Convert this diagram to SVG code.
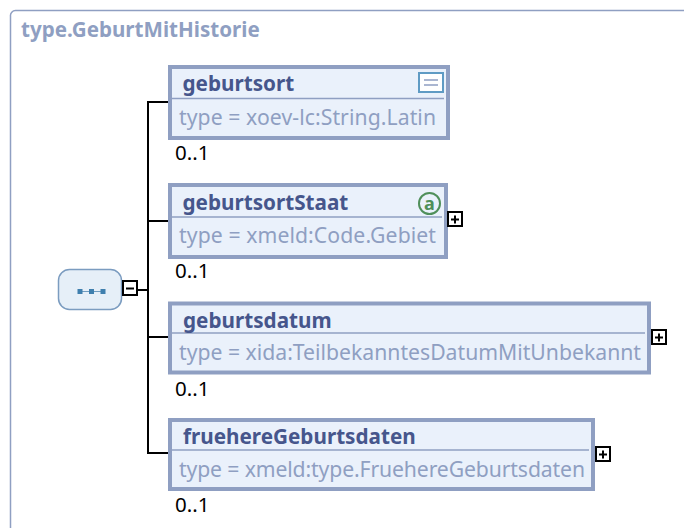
<svg xmlns="http://www.w3.org/2000/svg" width="684" height="528" viewBox="0 0 684 528">
<defs>
<style>
text{font-family:"Noto Sans","DejaVu Sans",sans-serif}
.box{fill:#eaf1fb;stroke:#8f9fc2;stroke-width:4}
.div{stroke:#8f9fc2;stroke-width:1.5;fill:none}
.name{font-size:20.700px;font-weight:700;fill:#46568c}
.type{font-size:21.200px;fill:#8f9fc2}
.occ{font-size:20.500px;fill:#000}
.ex{fill:#fff;stroke:#000;stroke-width:2}
.sym{stroke:#000;stroke-width:2;fill:none}
.con{stroke:#000;stroke-width:2;fill:none}
</style>
</defs>
<path d="M10.500 528V16a5 5 0 0 1 5-5.500H684" fill="none" stroke="#8f9fc2" stroke-width="1.500"/>
<text id="title" x="21" y="37" font-size="20.600" font-weight="700" fill="#8f9fc2">type.GeburtMitHistorie</text>
<g id="connectors">
<path class="con" d="M138 290H148M168 102H148V453H168M148 221H168M148 337H168"/>
</g>
<g id="sequence">
<rect x="58.500" y="269.500" width="63" height="40" rx="11" fill="#e6eff8" stroke="#7b9cc0" stroke-width="1.500"/>
<path d="M80 291.500H103" stroke="#6f9cc0" stroke-width="1"/>
<rect x="77.500" y="289" width="5" height="5" fill="#3f7fae"/><rect x="89" y="289" width="5" height="5" fill="#3f7fae"/><rect x="100.500" y="289" width="5" height="5" fill="#3f7fae"/>
<rect class="ex" x="123" y="281" width="14" height="14"/>
<path class="sym" d="M126 288.500H134"/>
</g>
<g id="geburtsort">
<rect class="box" x="170" y="67" width="278" height="71"/>
<path class="div" d="M172 98.500H444"/>
<rect x="419" y="73" width="24" height="19" fill="#fff" stroke="#5f9bc4" stroke-width="2"/>
<path d="M424 80H438M424 85H438" stroke="#8f9fc2" stroke-width="1.500"/>
<text class="name" x="182.500" y="91">geburtsort</text>
<text class="type" x="179" y="125" textLength="257">type = xoev-lc:String.Latin</text>
<text class="occ" x="175" y="160">0..1</text>
</g>
<g id="geburtsortStaat">
<rect class="box" x="170" y="185" width="276" height="72"/>
<path class="div" d="M172 217H442"/>
<circle cx="429.500" cy="203.500" r="10.500" fill="#eaf1fb" stroke="#4f8f5a" stroke-width="2"/>
<text x="429.500" y="210" font-size="18" font-weight="700" fill="#4f8f5a" text-anchor="middle">a</text>
<text class="name" x="182.500" y="210">geburtsortStaat</text>
<text class="type" x="179" y="243" textLength="257">type = xmeld:Code.Gebiet</text>
<text class="occ" x="175" y="278">0..1</text>
<rect class="ex" x="448" y="212" width="14" height="14"/>
<path class="sym" d="M451 219.500H459M455 215.500V223.500"/>
</g>
<g id="geburtsdatum">
<rect class="box" x="170" y="303.500" width="479" height="69"/>
<path class="div" d="M172 333H645"/>
<text class="name" x="183" y="327.500">geburtsdatum</text>
<text class="type" x="179" y="360" textLength="462">type = xida:TeilbekanntesDatumMitUnbekannt</text>
<text class="occ" x="175" y="396">0..1</text>
<rect class="ex" x="652" y="330" width="14" height="14"/>
<path class="sym" d="M655 337.500H663M659 333.500V341.500"/>
</g>
<g id="fruehereGeburtsdaten">
<rect class="box" x="170" y="420" width="423" height="69"/>
<path class="div" d="M172 450H589"/>
<text class="name" x="183" y="444">fruehereGeburtsdaten</text>
<text class="type" x="179" y="477" textLength="406">type = xmeld:type.FruehereGeburtsdaten</text>
<text class="occ" x="175" y="512">0..1</text>
<rect class="ex" x="596" y="447" width="14" height="14"/>
<path class="sym" d="M599 454.500H607M603 450.500V458.500"/>
</g>
</svg>
